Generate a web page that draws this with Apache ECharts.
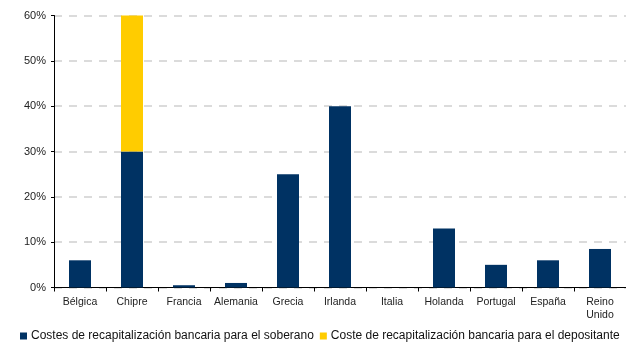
<!DOCTYPE html>
<html><head><meta charset="utf-8">
<script src="https://cdn.jsdelivr.net/npm/echarts@6/dist/echarts.min.js"></script>
<style>html,body{margin:0;padding:0;background:#fff}#c{width:626px;height:343px}</style>
</head><body><div id="c"></div>
<script>
const categories = ['Bélgica','Chipre','Francia','Alemania','Grecia','Irlanda','Italia','Holanda','Portugal','España','Reino\nUnido'];
const soberano = [6, 30, 0.5, 1, 25, 40, 0, 13, 5, 6, 8.5];
const depositante = [0, 30, 0, 0, 0, 0, 0, 0, 0, 0, 0];
const seriesNames = ['Costes de recapitalización bancaria para el soberano','Coste de recapitalización bancaria para el depositante'];
const yTicks = [0, 10, 20, 30, 40, 50, 60];

const chart = echarts.init(document.getElementById('c'), null, {renderer:'canvas'});
const font = 'Liberation Sans, Arial, sans-serif';
chart.setOption({
  animation:false,
  textStyle:{fontFamily:font},
  grid:{left:54, right:0, top:15.5, bottom:55.5, containLabel:false},
  legend:{
    left:20, top:330, itemWidth:7, itemHeight:7, itemGap:6, padding:0,
    icon:'rect',
    textStyle:{fontSize:12, color:'#111', fontFamily:font, padding:[0,0,0,-1]},
    data:seriesNames
  },
  xAxis:{
    type:'category', data:categories,
    axisLine:{lineStyle:{color:'#000', width:1}},
    axisTick:{show:true, length:4, lineStyle:{color:'#000'}},
    axisLabel:{fontSize:10.5, color:'#222', margin:8, fontFamily:font, lineHeight:13, interval:0}
  },
  yAxis:{
    type:'value', min:yTicks[0], max:yTicks[yTicks.length-1], interval:10,
    axisLine:{show:true, lineStyle:{color:'#000', width:1}},
    axisTick:{show:true, length:3, lineStyle:{color:'#000'}},
    axisLabel:{fontSize:11, color:'#222', margin:8, fontFamily:font, formatter:v=>v+'%'},
    splitLine:{show:true, lineStyle:{color:'#cfcfcf', width:1.5, type:[8,7]}}
  },
  series:[
    {name:seriesNames[0], type:'bar', stack:'s', data:soberano, barWidth:22, itemStyle:{color:'#003263'}},
    {name:seriesNames[1], type:'bar', stack:'s', data:depositante, barWidth:22, itemStyle:{color:'#FFCC00'}}
  ]
});
</script></body></html>
